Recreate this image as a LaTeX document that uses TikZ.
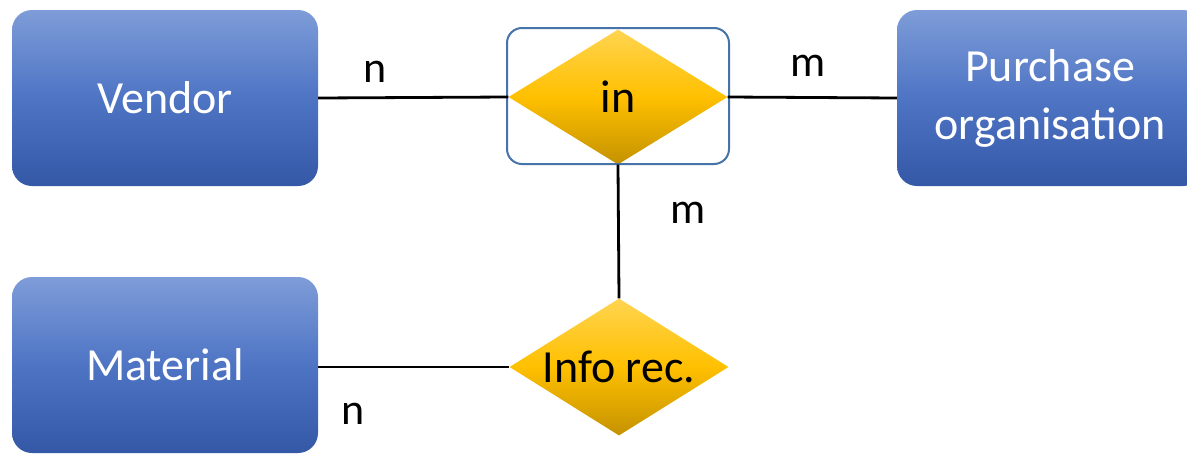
\documentclass[tikz,border=0pt]{standalone}
\usepackage{fontspec}
\setmainfont{Carlito}
\usetikzlibrary{shapes.geometric}
\definecolor{boxtop}{RGB}{126,156,216}
\definecolor{boxmid}{RGB}{78,116,196}
\definecolor{boxbot}{RGB}{52,88,166}
\definecolor{dtop}{RGB}{255,212,80}
\definecolor{dmid}{RGB}{255,192,0}
\definecolor{dbot}{RGB}{196,146,0}
\definecolor{frameblue}{RGB}{70,115,170}
\tikzset{
  entity/.style={rectangle, rounded corners=20pt, inner sep=0pt,
    top color=boxtop, bottom color=boxbot, middle color=boxmid,
    text=white, font=\fontsize{46}{58}\selectfont, align=center},
  relation/.style={diamond, inner sep=0pt, minimum width=219pt, minimum height=135pt,
    top color=dtop, bottom color=dbot, middle color=dmid},
  reltext/.style={font=\fontsize{46}{58}\selectfont, text=black, inner sep=0pt},
  conn/.style={line width=2.8pt, black},
  card/.style={font=\fontsize{44}{50}\selectfont, text=black, inner sep=0pt}
}
\begin{document}
\begin{tikzpicture}[x=1pt,y=-1pt]
\useasboundingbox (0,0) rectangle (1187,453);
\clip (0,0) rectangle (1187,453);
\node[entity, minimum width=306pt, minimum height=176pt] (vendor) at (165,98) {Vendor};
\node[entity, minimum width=306pt, minimum height=176pt] (purch) at (1050,98) {Purchase\\organisation};
\node[entity, minimum width=306pt, minimum height=176pt] (mat) at (165,365) {Material};
\node[relation] (in) at (618,97) {};
\node[reltext] (intext) at (in.center) {in};
\node[draw=frameblue, line width=2pt, rounded corners=15pt, minimum width=222pt, minimum height=136pt, inner sep=0pt] (inframe) at (618,96) {};
\node[relation, minimum height=137pt] (info) at (619,367) {};
\node[reltext] (infotext) at (info.center) {Info rec.};
\draw[conn] (vendor.east) -- (in.west);
\draw[conn] (in.east) -- (purch.west);
\draw[conn] (in.south) -- (info.north);
\draw[conn] (mat.east |- info.west) -- (info.west);
\node[card] (n1) at (375,72) {n};
\node[card] (m1) at (808,66) {m};
\node[card] (m2) at (688,213) {m};
\node[card] (n2) at (353,414) {n};
\end{tikzpicture}
\end{document}
